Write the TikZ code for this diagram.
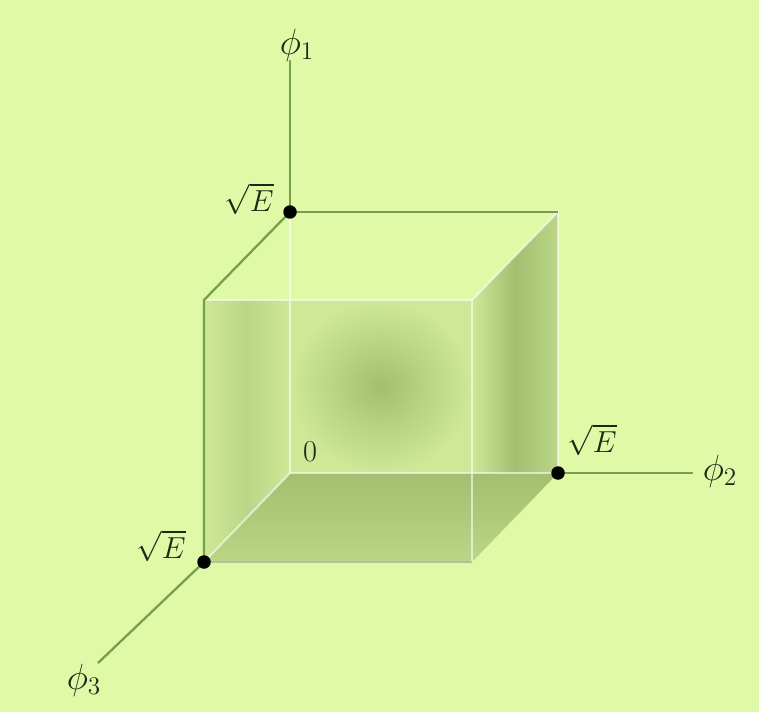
\documentclass[tikz,border=0pt]{standalone}
\usepackage{amsmath,amssymb}
\usepackage{xcolor}
\usetikzlibrary{positioning}

\definecolor{bgcol}{RGB}{223,249,166}
\definecolor{axiscol}{RGB}{118,158,78}
\definecolor{facelight}{RGB}{206,232,152}
\definecolor{facemid}{RGB}{186,214,134}
\definecolor{facedark}{RGB}{162,192,112}
\definecolor{txtcol}{RGB}{30,40,20}

\begin{document}
\begin{tikzpicture}[x=0.02cm,y=-0.02cm,
    axis/.style={draw=axiscol, line width=1.3pt},
    ghost/.style={draw=white, opacity=0.6, line width=1.1pt},
    dot/.style={circle, fill=black, inner sep=0pt, minimum size=0.27cm},
    lbl/.style={text=txtcol, font=\fontsize{17}{20}\selectfont},
    axlbl/.style={text=txtcol, font=\fontsize{20}{24}\selectfont}]
    \fill[bgcol] (0,0) rectangle (759,712);
    \useasboundingbox (0,0) rectangle (759,712);

    % corners of the cube
    \coordinate (O) at (290,473);
    \coordinate (T) at (290,212);
    \coordinate (R) at (558,473);
    \coordinate (F) at (204,562);
    \coordinate (TR) at (558,212);
    \coordinate (FT) at (204,300);
    \coordinate (FTR) at (472,300);
    \coordinate (FBR) at (472,562);
    \coordinate (BT) at (290,300);
    \coordinate (BR) at (472,473);
    % ends of the axes
    \coordinate (E1) at (290,60);
    \coordinate (E2) at (693,473);
    \coordinate (E3) at (98,663);

    % faces
    \shade[inner color=facedark, outer color=facelight] (BT) rectangle (BR);
    \shade[left color=facelight, right color=facelight, middle color=facemid]
        (FT) -- (BT) -- (O) -- (F) -- cycle;
    \shade[top color=facedark, bottom color=facemid] (O) -- (BR) -- (FBR) -- (F) -- cycle;
    \shade[left color=facelight, right color=facemid, middle color=facedark]
        (FTR) -- (TR) -- (R) -- (BR) -- cycle;
    \shade[top color=facedark, bottom color=facemid] (BR) -- (R) -- (FBR) -- cycle;

    % light edges
    \draw[ghost] (T) -- (O);
    \draw[ghost] (O) -- (R);
    \draw[ghost] (O) -- (F);
    \draw[ghost] (FT) -- (FTR) -- (FBR);
    \draw[ghost] (FTR) -- (TR) -- (R);

    % dark edges and axes
    \draw[axis] (T) -- (TR);
    \draw[axis] (T) -- (FT) -- (F);
    \draw[axis, draw=axiscol!60] (F) -- (FBR);
    \draw[axis] (T) -- (E1);
    \draw[axis] (R) -- (E2);
    \draw[axis] (F) -- (E3);

    \node[dot] (d1) at (T) {};
    \node[dot] (d2) at (R) {};
    \node[dot] (d3) at (F) {};

    \node[axlbl] (l1) at (297,45) {$\phi_1$};
    \node[axlbl] (l2) at (720,471) {$\phi_2$};
    \node[axlbl] (l3) at (84,680) {$\phi_3$};
    \node[lbl] (s1) at (249,199) {$\sqrt{E}$};
    \node[lbl] (s2) at (592,440) {$\sqrt{E}$};
    \node[lbl] (s3) at (161,546) {$\sqrt{E}$};
    \node[lbl] (zero) at (310,452) {$0$};
\end{tikzpicture}
\end{document}
